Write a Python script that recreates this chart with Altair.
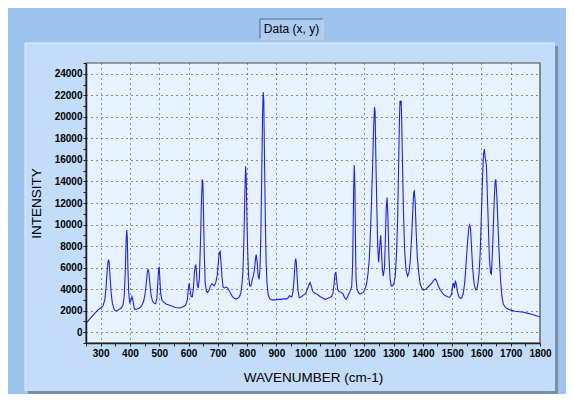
import pandas as pd
import altair as alt

# spectrum (wavenumber cm-1 / intensity)
wavenumber = [
    250, 260, 270, 280, 290, 300, 308, 314, 318, 322, 325, 327, 329, 332, 336, 340, 345, 350,
    356, 362, 370, 376, 380, 384, 387, 389, 391, 393, 396, 399, 403, 407, 410, 414, 418, 425,
    432, 440, 447, 452, 456, 459, 462, 465, 468, 472, 477, 482, 488, 492, 495, 498, 500, 502,
    505, 509, 515, 525, 540, 555, 570, 580, 590, 596, 600, 602, 605, 609, 613, 617, 620, 623,
    625, 627, 630, 633, 637, 641, 644, 647, 649, 651, 654, 657, 661, 665, 670, 675, 680, 684,
    688, 693, 698, 702, 705, 708, 711, 714, 718, 722, 727, 732, 738, 744, 750, 756, 762, 768,
    774, 779, 783, 786, 789, 792, 795, 797, 799, 802, 805, 809, 813, 818, 822, 826, 829, 831,
    834, 838, 841, 844, 847, 850, 853, 855, 857, 859, 862, 865, 868, 872, 877, 885, 895, 905,
    915, 925, 935, 940, 945, 949, 953, 957, 961, 964, 966, 968, 971, 974, 978, 985, 992, 1000,
    1006, 1011, 1015, 1019, 1024, 1030, 1040, 1050, 1060, 1066, 1072, 1080, 1088, 1093, 1097, 1100,
    1103, 1106, 1109, 1113, 1120, 1127, 1133, 1138, 1143, 1148, 1153, 1157, 1160, 1162, 1164, 1166,
    1168, 1170, 1172, 1175, 1180, 1185, 1190, 1196, 1202, 1208, 1213, 1217, 1220, 1224, 1228, 1232,
    1235, 1237, 1240, 1243, 1246, 1249, 1253, 1256, 1259, 1262, 1265, 1269, 1272, 1275, 1278, 1281,
    1284, 1288, 1292, 1297, 1302, 1306, 1310, 1314, 1317, 1320, 1322, 1324, 1326, 1328, 1331, 1334,
    1338, 1343, 1348, 1353, 1357, 1362, 1366, 1369, 1371, 1374, 1377, 1381, 1386, 1391, 1396, 1402,
    1410, 1418, 1425, 1432, 1438, 1443, 1448, 1453, 1460, 1468, 1476, 1484, 1492, 1498, 1502, 1505,
    1508, 1511, 1514, 1518, 1523, 1528, 1533, 1538, 1543, 1548, 1553, 1557, 1560, 1563, 1566, 1570,
    1575, 1580, 1584, 1588, 1592, 1596, 1600, 1604, 1607, 1610, 1613, 1617, 1620, 1623, 1627, 1631,
    1634, 1637, 1641, 1644, 1647, 1649, 1652, 1655, 1658, 1661, 1665, 1670, 1675, 1682, 1690, 1700,
    1715, 1730, 1745, 1760, 1775, 1790, 1800,
]
intensity = [
    800, 1150, 1450, 1750, 2050, 2250, 2450, 3000, 4000, 5600, 6500, 6750, 6500, 5200, 3600, 2700, 2200, 2000,
    2000, 2100, 2250, 2500, 3200, 5500, 8400, 9500, 8800, 6000, 3600, 2750, 2900, 3300, 3000, 2300, 2100, 2150,
    2250, 2450, 2900, 3600, 4600, 5500, 5850, 5500, 4500, 3500, 2900, 2700, 2650, 3200, 4500, 5900, 6000, 5000,
    3600, 3000, 2800, 2600, 2450, 2300, 2250, 2350, 2500, 3000, 4200, 4550, 4000, 3300, 3300, 4200, 5500, 6100,
    6200, 5600, 4400, 4100, 5000, 8500, 12000, 14100, 14000, 11500, 7000, 4600, 3800, 3700, 3900, 4300, 4500, 4400,
    4300, 4600, 5300, 6500, 7400, 7500, 6500, 5200, 4200, 4100, 4200, 4150, 3900, 3600, 3300, 3150, 3100, 3150,
    3300, 3700, 4600, 5700, 8500, 12500, 15400, 14500, 11000, 7500, 5300, 4300, 4300, 4900, 5300, 6000, 6900, 7200,
    6600, 5200, 4900, 5800, 9000, 14500, 20500, 22300, 21500, 17000, 11000, 6500, 4500, 3500, 3100, 3000, 3000, 3050,
    3050, 3100, 3100, 3200, 3400, 3300, 3300, 3800, 5200, 6500, 6850, 6500, 5000, 3800, 3200, 3300, 3450, 3600,
    4000, 4400, 4600, 4300, 3800, 3650, 3500, 3300, 3150, 3050, 3100, 3200, 3300, 3600, 4500, 5400,
    5600, 4800, 4000, 3800, 3700, 3600, 3200, 3050, 3300, 3600, 3900, 4200, 6000, 9500, 13500, 15500,
    13500, 8500, 5000, 4000, 3700, 3550, 3600, 3700, 3950, 4500, 5500, 6700, 8500, 11500, 15000, 19000,
    20900, 20500, 15500, 11500, 8000, 6500, 8000, 9000, 7500, 5800, 5200, 6000, 8500, 11500, 12500, 10500,
    7200, 5000, 4300, 4300, 4600, 5300, 7200, 10500, 15000, 19500, 21500, 21300, 21500, 19500, 15000, 11000,
    7500, 5700, 5200, 5600, 6600, 9000, 11500, 13000, 13100, 12000, 9500, 7000, 5500, 4500, 4100, 3900,
    4000, 4200, 4400, 4600, 4850, 4950, 4700, 4300, 3900, 3600, 3400, 3300, 3250, 3500, 4400, 4500,
    4100, 4800, 4500, 3800, 3300, 3150, 3200, 3600, 4600, 6500, 8500, 9700, 9950, 9600, 8000, 6000,
    4500, 3950, 3950, 4500, 5500, 7500, 11000, 14500, 16500, 17000, 16200, 15500, 13000, 10500, 7000, 5500,
    5400, 7000, 10000, 12500, 14000, 14200, 13000, 11000, 9000, 7000, 5000, 3300, 2600, 2300, 2150, 2050,
    1950, 1900, 1850, 1750, 1650, 1500, 1450,
]

x_ticks = list(range(250, 1801, 50))
y_ticks = list(range(-1000, 25001, 1000))

spectrum = pd.DataFrame({"wavenumber": wavenumber, "intensity": intensity})
one = pd.DataFrame({"k": [0]})

W, H = 454, 280
FONT = "Liberation Sans"

# window furniture: inner panel, its shadow and highlight, plot background, title box
inner = alt.Chart(one).mark_rect(color="#c2dcf9").encode(
    x=alt.value(-61), x2=alt.value(469), y=alt.value(-20), y2=alt.value(328))
shadow_r = alt.Chart(one).mark_rect(color="#7d8da3").encode(
    x=alt.value(469), x2=alt.value(472), y=alt.value(-17), y2=alt.value(331))
shadow_b = alt.Chart(one).mark_rect(color="#7d8da3").encode(
    x=alt.value(-58), x2=alt.value(472), y=alt.value(328), y2=alt.value(331))
hl_top = alt.Chart(one).mark_rule(color="#deedfc").encode(
    x=alt.value(-61), x2=alt.value(469), y=alt.value(-20))
hl_left = alt.Chart(one).mark_rule(color="#deedfc").encode(
    x=alt.value(-61), y=alt.value(-20), y2=alt.value(328))
plot_bg = alt.Chart(one).mark_rect(color="#e6f2fe", stroke="#4a4a4a", strokeWidth=1.2).encode(
    x=alt.value(0), x2=alt.value(W), y=alt.value(0), y2=alt.value(H))

box = alt.Chart(one).mark_rect(color="#a9cdf4", stroke="#5a6a80", strokeWidth=1).encode(
    x=alt.value(174), x2=alt.value(237), y=alt.value(-44), y2=alt.value(-24))
box_r = alt.Chart(one).mark_rule(color="#ffffff").encode(
    x=alt.value(237), y=alt.value(-44), y2=alt.value(-24))
box_b = alt.Chart(one).mark_rule(color="#ffffff").encode(
    x=alt.value(174), x2=alt.value(237), y=alt.value(-24))
box_text = alt.Chart(one).mark_text(
    text="Data (x, y)", font=FONT, fontSize=12, color="black", align="center", baseline="middle"
).encode(x=alt.value(205.5), y=alt.value(-34))

axis_style = dict(
    labelFont=FONT, labelFontSize=10, labelFontWeight="bold", labelColor="black",
    titleFont=FONT, titleFontSize=13.5, titleFontWeight="normal", titleColor="black",
    tickColor="#202020", tickSize=3, domainColor="#202020", domainWidth=1.5,
    gridColor="#303030", gridDash=[1, 4], gridWidth=1, labelOverlap=False, labelFlush=False,
    format="d", titleBaseline="middle", titleAlign="center", zindex=1,
)

line = alt.Chart(spectrum).mark_line(color="#2020ff", strokeWidth=1.1, clip=True).encode(
    x=alt.X("wavenumber:Q", scale=alt.Scale(domain=[250, 1800], nice=False, zero=False),
            axis=alt.Axis(
                values=x_ticks, title="WAVENUMBER (cm-1)",
                labelExpr="datum.value % 100 == 0 && datum.value >= 300 ? datum.label : ''",
                gridOpacity={"condition": {"test": "datum.value % 100 == 0 && datum.value >= 300 && datum.value <= 1700", "value": 1}, "value": 0},
                labelPadding=2, titleX=227, titleY=34, **axis_style)),
    y=alt.Y("intensity:Q", scale=alt.Scale(domain=[-1000, 25000], nice=False, zero=False),
            axis=alt.Axis(
                values=y_ticks, title="INTENSITY",
                labelExpr="datum.value % 2000 == 0 && datum.value >= 0 && datum.value <= 24000 ? datum.label : ''",
                gridOpacity={"condition": {"test": "datum.value % 2000 == 0 && datum.value >= 0 && datum.value <= 24000", "value": 1}, "value": 0},
                labelPadding=1, titleX=-50, titleY=140, **axis_style)),
)

chart = alt.layer(
    inner, shadow_r, shadow_b, hl_top, hl_left, box, box_r, box_b, box_text, plot_bg, line
).properties(
    width=W, height=H,
    background="#9cc3ed",
    padding={"left": 78, "top": 55, "right": 26, "bottom": 51},
    autosize=alt.AutoSizeParams(type="none"),
).configure_view(stroke=None)

chart.save("out.html", embed_options={"renderer": "svg", "actions": False})
